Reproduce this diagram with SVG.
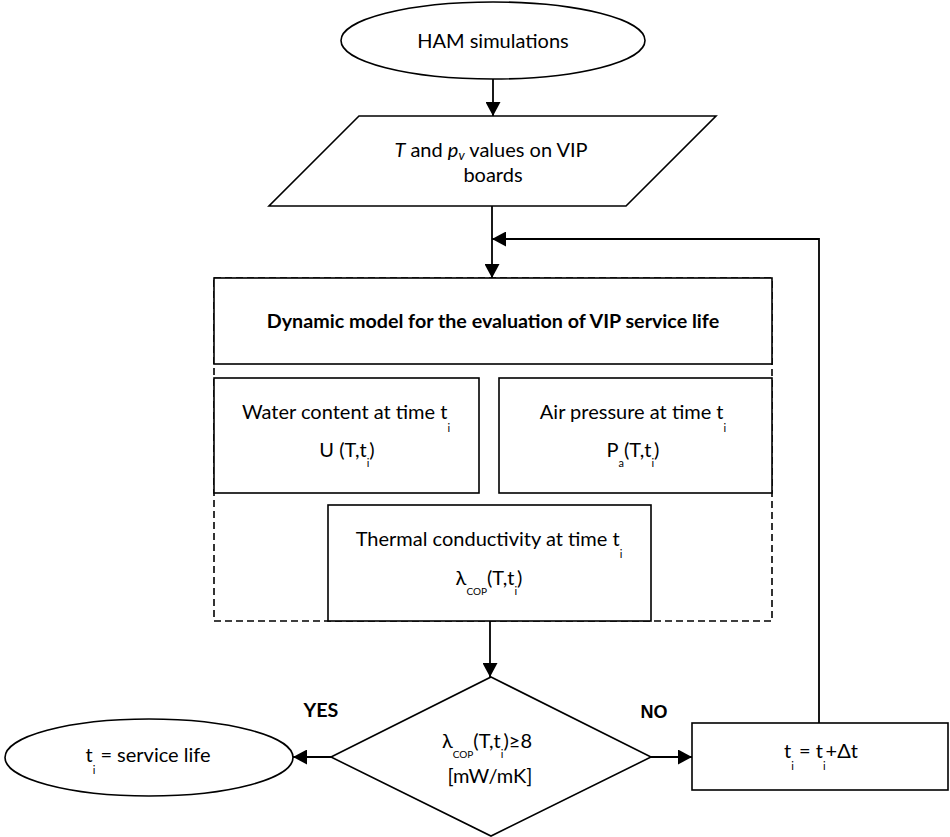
<svg xmlns="http://www.w3.org/2000/svg" width="950" height="837" viewBox="0 0 950 837">
<defs>
<style>
.s{fill:#fff;stroke:#000;stroke-width:1.6}
.c{fill:none;stroke:#000;stroke-width:1.8}
.t{font-family:Lato,"Open Sans",sans-serif;font-size:20px;fill:#000}
.b{font-weight:bold;font-size:19.7px}
.sub{font-size:11px}
.subc{font-size:10px}
</style>
<marker id="ah" markerUnits="userSpaceOnUse" markerWidth="14" markerHeight="15" refX="14" refY="7.5" orient="auto">
<path d="M0,0 L14,7.5 L0,15 z" fill="#000"/>
</marker>
</defs>
<rect width="950" height="837" fill="#fff"/>
<g id="dashed-frame">
<rect x="214" y="278" width="558" height="343" fill="none" stroke="#000" stroke-width="1.6" stroke-dasharray="7 4"/>
</g>
<g id="ham">
<ellipse class="s" cx="493" cy="40.5" rx="152" ry="38.5"/>
<text class="t" x="493" y="48" text-anchor="middle">HAM simulations</text>
</g>
<g id="values">
<polygon class="s" points="359,116 716,116 626,206 269,206"/>
<text class="t" x="491" y="157" text-anchor="middle"><tspan font-style="italic">T</tspan> and <tspan font-style="italic">p</tspan><tspan font-style="italic" font-size="13" dy="3">v</tspan><tspan dy="-3"> values on VIP</tspan></text>
<text class="t" x="493" y="182" text-anchor="middle">boards</text>
</g>
<g id="dynamic">
<rect class="s" x="214" y="278" width="558" height="86"/>
<text class="t b" x="493" y="328" text-anchor="middle">Dynamic model for the evaluation of VIP service life</text>
</g>
<g id="water">
<rect class="s" x="214" y="378" width="265" height="115"/>
<text class="t" x="346" y="419" text-anchor="middle">Water content at time t<tspan class="sub" dy="13">i</tspan></text>
<text class="t" x="347" y="457" text-anchor="middle">U (T,t<tspan class="sub" dy="10">i</tspan><tspan dy="-10">)</tspan></text>
</g>
<g id="air">
<rect class="s" x="499" y="378" width="273" height="115"/>
<text class="t" x="633" y="419" text-anchor="middle">Air pressure at time t<tspan class="sub" dy="13">i</tspan></text>
<text class="t" x="633" y="457" text-anchor="middle">P<tspan class="sub" dy="10">a</tspan><tspan dy="-10">(T,t</tspan><tspan class="sub" dy="10">i</tspan><tspan dy="-10">)</tspan></text>
</g>
<g id="thermal">
<rect class="s" x="328" y="505" width="323" height="116"/>
<text class="t" x="489" y="546" text-anchor="middle">Thermal conductivity at time t<tspan class="sub" dy="12">i</tspan></text>
<text class="t" x="489" y="585" text-anchor="middle">λ<tspan class="subc" dy="10">COP</tspan><tspan dy="-10">(T,t</tspan><tspan class="sub" dy="10">i</tspan><tspan dy="-10">)</tspan></text>
</g>
<g id="decision">
<polygon class="s" points="491,677 651,757 491,836 331,757"/>
<text class="t" x="487" y="748" text-anchor="middle">λ<tspan class="subc" dy="10">COP</tspan><tspan dy="-10">(T,t</tspan><tspan class="sub" dy="10">i</tspan><tspan dy="-10">)≥8</tspan></text>
<text class="t" x="490" y="783" text-anchor="middle">[mW/mK]</text>
</g>
<g id="service-life">
<ellipse class="s" cx="149" cy="757.5" rx="144" ry="38.5"/>
<text class="t" x="148" y="762" text-anchor="middle">t<tspan class="sub" dy="12">i</tspan><tspan dy="-12"> = service life</tspan></text>
</g>
<g id="increment">
<rect class="s" x="692" y="723" width="256" height="67"/>
<text class="t" x="821" y="758" text-anchor="middle">t<tspan class="sub" dy="12">i</tspan><tspan dy="-12"> = t</tspan><tspan class="sub" dy="12">i</tspan><tspan dy="-12">+Δt</tspan></text>
</g>
<g id="connectors">
<path class="c" d="M493,79 L493,116" marker-end="url(#ah)"/>
<path class="c" d="M492,206 L492,278" marker-end="url(#ah)"/>
<path class="c" d="M819,723 L819,239 L492,239" marker-end="url(#ah)"/>
<path class="c" d="M490,621 L490,677" marker-end="url(#ah)"/>
<path class="c" d="M331,757 L293,757" marker-end="url(#ah)"/>
<path class="c" d="M651,757 L692,757" marker-end="url(#ah)"/>
</g>
<g id="labels">
<text class="t b" x="321" y="717" text-anchor="middle">YES</text>
<text class="t b" x="654" y="718" text-anchor="middle" style="font-family:'Liberation Sans',Arial,sans-serif;font-size:18px">NO</text>
</g>
</svg>
